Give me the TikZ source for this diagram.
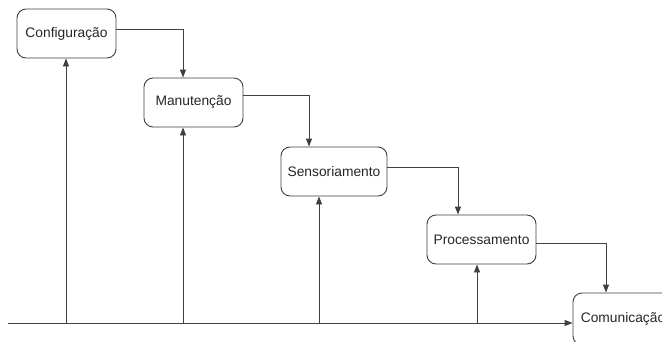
\documentclass[tikz,border=0pt]{standalone}
\usepackage{fontspec}
\setmainfont{Liberation Sans}
\usetikzlibrary{arrows.meta}
\begin{document}
\begin{tikzpicture}[x=1pt,y=-1pt,
  stage/.style={draw=black!75, rounded corners=9pt, line width=0.9pt,
    font=\fontsize{13.8}{16}\selectfont, text=black!85, inner sep=0pt,
    minimum height=49pt},
  flow/.style={draw=black!75, line width=0.9pt,
    -{Triangle[length=8pt,width=6pt]}}]
\useasboundingbox (0,0) rectangle (662,341);
\fill[white] (0,0) rectangle (662,341);
\clip (0,0) rectangle (662,341);

% the five stages, stepping down to the right
\node[stage, minimum width=99pt]  (cfg) at (66.5,33.5)  {Configuração};
\node[stage, minimum width=99pt]  (man) at (193.5,102.5) {Manutenção};
\node[stage, minimum width=106pt] (sen) at (334,171.5)   {Sensoriamento};
\node[stage, minimum width=109pt] (pro) at (481.5,239.5) {Processamento};
\node[stage, minimum width=100pt, minimum height=52pt] (com) at (623,319) {Comunicação};

% entry points on the top of each following stage
\coordinate (d2) at (183,0);
\coordinate (d3) at (309,0);
\coordinate (d4) at (458,0);
\coordinate (d5) at (606,0);

% stage-to-stage flow
\draw[flow] ([yshift=4pt]cfg.east) -| (d2 |- man.north);
\draw[flow] ([yshift=7pt]man.east) -| (d3 |- sen.north);
\draw[flow] ([yshift=4pt]sen.east) -| (d4 |- pro.north);
\draw[flow] ([yshift=-4pt]pro.east) -| (d5 |- com.north);

% base line and its branches up to the stages
\coordinate (start) at (8,323);
\draw[flow] (start) -- (start -| com.west);
\coordinate (u1) at (66,323);
\coordinate (u2) at (183,323);
\coordinate (u3) at (319,323);
\coordinate (u4) at (477,323);
\draw[flow] (u1) -- (u1 |- cfg.south);
\draw[flow] (u2) -- (u2 |- man.south);
\draw[flow] (u3) -- (u3 |- sen.south);
\draw[flow] (u4) -- (u4 |- pro.south);
\end{tikzpicture}
\end{document}
